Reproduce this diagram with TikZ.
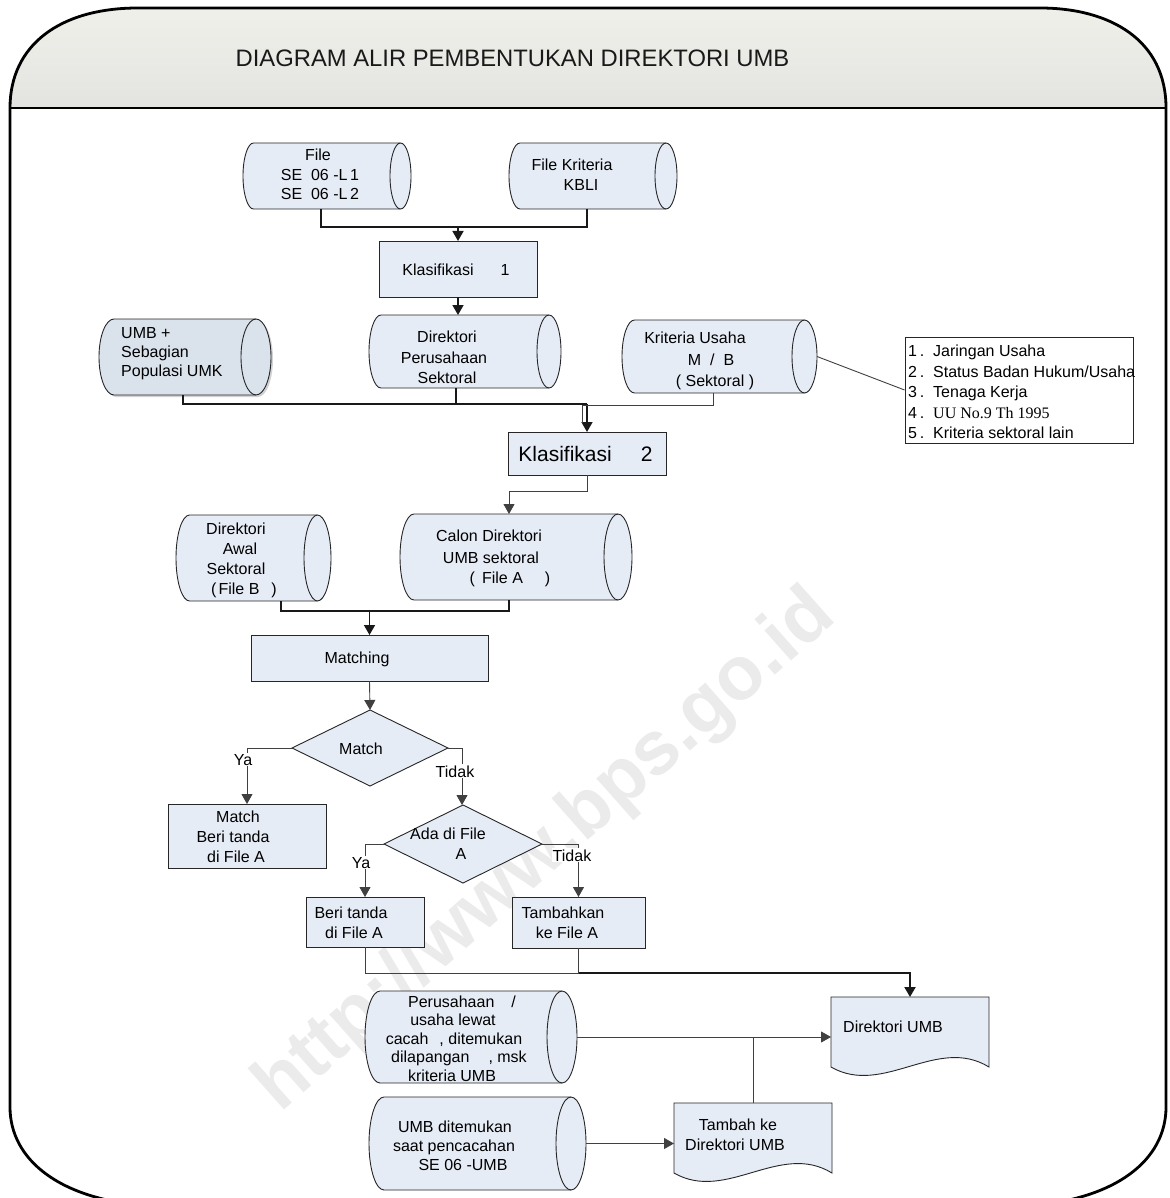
\documentclass[tikz,border=0pt]{standalone}
\usepackage{fontspec}
\setmainfont{Liberation Sans}
\newfontfamily\timesfont{Liberation Serif}
\usetikzlibrary{arrows.meta,shapes.geometric,shadows}
\definecolor{boxfill}{HTML}{E6ECF6}
\definecolor{umbfill}{HTML}{DAE2EC}
\definecolor{hdrtop}{HTML}{F0F0EA}
\definecolor{hdrbot}{HTML}{E3E3E1}
\definecolor{wmark}{HTML}{EBEBEB}

% cylinder: name, L, T, R, B, end radius, style
\newcommand\cylshape[7]{%
  \pgfmathsetmacro\cyM{(#3+#5)/2}%
  \pgfmathsetmacro\cyR{(#5-#3)/2}%
  \pgfmathsetmacro\cyK{0.5523*#6}%
  \pgfmathsetmacro\cyKr{0.5523*\cyR}%
  \pgfmathsetmacro\cyP{#2+#6}%
  \pgfmathsetmacro\cyQ{#4-#6}%
  \pgfmathsetmacro\cyX{(#2+#4)/2}%
  \filldraw[cylline,#7] (\cyP,#3) -- (\cyQ,#3)
     .. controls (\cyQ+\cyK,#3) and (#4,\cyM-\cyKr) .. (#4,\cyM)
     .. controls (#4,\cyM+\cyKr) and (\cyQ+\cyK,#5) .. (\cyQ,#5)
     -- (\cyP,#5)
     .. controls (\cyP-\cyK,#5) and (#2,\cyM+\cyKr) .. (#2,\cyM)
     .. controls (#2,\cyM-\cyKr) and (\cyP-\cyK,#3) .. (\cyP,#3) -- cycle;
  \draw[cylline] (\cyQ,#3) .. controls (\cyQ-\cyK,#3) and (\cyQ-#6,\cyM-\cyKr) .. (\cyQ-#6,\cyM)
     .. controls (\cyQ-#6,\cyM+\cyKr) and (\cyQ-\cyK,#5) .. (\cyQ,#5);
  \node[anchorbox, minimum width={#4-#2}, minimum height={#5-#3}] (#1) at (\cyX,\cyM) {};
}
% document: name, L, T, R, bottom, style
\newcommand\docshape[6]{%
  \pgfmathsetmacro\dsA{#2+0.67*(#4-#2)}%
  \pgfmathsetmacro\dsB{#2+0.33*(#4-#2)}%
  \filldraw[cylline,#6] (#2,#3) -- (#4,#3) -- (#4,#5)
     .. controls (\dsA,#5-32) and (\dsB,#5+30) .. (#2,#5) -- cycle;
  \node[anchorbox, minimum width={#4-#2}, minimum height={#5-#3}] (#1) at ({(#2+#4)/2},{(#3+#5)/2}) {};
}
% text line: name, x, y (visual centre), text
\newcommand\tline[4]{\node[txtbase] (#1) at (#2,#3+6) {#4};}
\newcommand\tlinew[4]{\node[txtbase, anchor=base west] (#1) at (#2,#3+6) {#4};}

\begin{document}
\begin{tikzpicture}[x=1pt,y=-1pt,
  anchorbox/.style={inner sep=0pt, outer sep=0pt},
  cylline/.style={draw=black!85, line width=0.9pt},
  procbox/.style={draw=black!85, line width=0.9pt, fill=boxfill, inner sep=0pt, outer sep=0pt},
  decbox/.style={diamond, draw=black!85, line width=0.9pt, fill=boxfill, inner sep=0pt, outer sep=0pt},
  conn/.style={draw=black!90, line width=1.6pt},
  connthin/.style={draw=black!75, line width=0.9pt},
  connthick/.style={draw=black!90, line width=2pt},
  tip/.style={-{Triangle[width=11pt,length=10pt]}},
  frame/.style={line width=2.8pt, draw=black},
  txtbase/.style={inner sep=0pt, anchor=base, font=\fontsize{16}{19}\selectfont},
  lbl/.style={inner sep=1pt, fill=white, anchor=base, font=\fontsize{16}{19}\selectfont},
]
\useasboundingbox (0,0) rectangle (1169,1198);
\fill[white] (0,0) rectangle (1169,1198);

% header band and frame
\shade[top color=hdrtop, bottom color=hdrbot] (10,108) .. controls (10,45) and (60,8) .. (138,8) -- (1040,8) .. controls (1110,8) and (1166,40) .. (1166,108) -- cycle;
\draw[frame] (10,108) .. controls (10,45) and (60,8) .. (138,8) -- (1040,8) .. controls (1110,8) and (1166,40) .. (1166,108) -- (1166,1107) .. controls (1166,1160) and (1116,1200) .. (1026,1206) -- (150,1206) .. controls (60,1200) and (10,1160) .. (10,1107) -- cycle;
\draw[frame] (10,108) -- (1166,108);
\node[inner sep=0pt, anchor=base, font=\fontsize{23.8}{28}\selectfont, text=black!90] (title) at (512.5,66.5) {DIAGRAM ALIR PEMBENTUKAN DIREKTORI UMB};

% watermark
\node[rotate=41.5, inner sep=0pt, font=\bfseries\fontsize{76}{80}\selectfont, text=wmark] (wm) at (546,852) {http://www.bps.go.id};

% shapes
\cylshape{file}{243}{143}{411}{209}{10.5}{fill=boxfill}
\cylshape{kbli}{509}{143}{677}{209}{11}{fill=boxfill}
\node[procbox, minimum width=158, minimum height=56] (k1) at (458,269) {};
\cylshape{umb}{99}{319}{271}{395}{15}{fill=umbfill, drop shadow={shadow xshift=2pt, shadow yshift=-2pt, opacity=0.35}}
\cylshape{dirp}{369}{315}{561}{388}{12}{fill=boxfill}
\cylshape{crit}{622}{320}{817}{393}{12.5}{fill=boxfill}
\node[draw=black!85, line width=0.9pt, fill=white, inner sep=0pt, minimum width=228, minimum height=106] (listbox) at (1019,390) {};
\node[procbox, minimum width=158, minimum height=43] (k2) at (587,453.5) {};
\cylshape{awal}{176}{515}{331}{601}{13.5}{fill=boxfill}
\cylshape{calon}{400}{514}{632}{600}{14}{fill=boxfill}
\node[procbox, minimum width=237, minimum height=46] (mtch) at (369.5,658) {};
\node[decbox, minimum width=156, minimum height=76] (d1) at (370,748) {};
\node[procbox, minimum width=158, minimum height=64] (mbox) at (247,836) {};
\node[decbox, minimum width=158, minimum height=78] (d2) at (463,844) {};
\node[procbox, minimum width=118, minimum height=50] (beri) at (365,922) {};
\node[procbox, minimum width=133, minimum height=51] (tamb) at (578.5,922.5) {};
\docshape{dirumb}{831}{997}{989}{1067}{fill=boxfill}
\cylshape{peru}{365}{991}{577}{1083}{15}{fill=boxfill}
\cylshape{umbd}{369}{1097}{586}{1190}{15}{fill=boxfill}
\docshape{tambk}{674}{1103}{832}{1173}{fill=boxfill}

% junction points
\coordinate (j1) at (458,227);
\coordinate (j2) at (587,404);
\coordinate (j3) at (582,405);
\coordinate (j4) at (509,491);
\coordinate (j5) at (369.5,611);
\coordinate (j6) at (578.5,973);

% connectors
\draw[conn] ([xshift=-6pt]file.south) |- (j1) -| ([xshift=-6pt]kbli.south);
\draw[conn, tip] (j1) -- (k1.north);
\draw[conn, tip] (k1.south) -- (k1.south |- dirp.north);
\draw[conn] ([xshift=-2pt]umb.south) |- (j2);
\draw[conn] ([xshift=-9pt]dirp.south) -- ([xshift=-9pt]dirp.south |- j2);
\draw[conn, tip] (j2) -- (k2.north);
\draw[connthin] ([xshift=-6.5pt]crit.south) |- (j3) -- ([yshift=9pt]j3 |- k2.north);
\draw[connthin] (crit.east) -- (listbox.west);
\draw[connthin, tip] (k2.south) |- (j4) -- (j4 |- calon.north);
\draw[conn] ([xshift=27.5pt]awal.south) |- (j5) -| ([xshift=-7pt]calon.south);
\draw[conn, tip] (j5) -- (mtch.north);
\draw[connthin, tip] (mtch.south) -- (d1.north);
\draw[connthin, tip] (d1.west) -| (mbox.north);
\draw[connthin, tip] (d1.east) -| ([xshift=-1pt]d2.north);
\draw[connthin, tip] (d2.west) -| (beri.north);
\draw[connthin, tip] (d2.east) -| (tamb.north);
\draw[connthin] (beri.south) |- (j6);
\draw[connthin] (tamb.south) -- (j6);
\draw[connthick, tip] (j6) -| (dirumb.north);
\draw[connthin, tip] (peru.east) -- (peru.east -| dirumb.west);
\draw[connthin, tip] (umbd.east) -- (umbd.east -| tambk.west);
\draw[connthin] (tambk.north) -- (tambk.north |- peru.east);

% branch labels
\node[lbl] (ya1) at (243,765) {Ya};
\node[lbl] (tidak1) at (455,777) {Tidak};
\node[lbl] (ya2) at (361,868) {Ya};
\node[lbl] (tidak2) at (572,861) {Tidak};

% texts
\tline{tf1}{318}{155}{File}
\tline{tf2}{320}{175}{SE\ \ 06 -L\,1}
\tline{tf3}{320}{194}{SE\ \ 06 -L\,2}
\tline{tk1}{572}{165}{File Kriteria}
\tline{tk2}{581}{185}{KBLI}
\tline{tkl1}{456}{269}{Klasifikasi\hspace{27pt}1}
\tline{tdp1}{447}{336}{Direktori}
\tline{tdp2}{444}{357}{Perusahaan}
\tline{tdp3}{447}{377}{Sektoral}
\tlinew{tu1}{121}{332}{UMB +}
\tlinew{tu2}{121}{351}{Sebagian}
\tlinew{tu3}{121}{370}{Populasi UMK}
\tline{tc1}{695}{337}{Kriteria Usaha}
\tline{tc2}{711}{359}{M\hspace{9pt}/\hspace{9pt}B}
\tline{tc3}{715}{380}{( Sektoral )}
\tlinew{tl1}{908}{350}{\makebox[25pt][l]{1\,.}Jaringan Usaha}
\tlinew{tl2}{908}{371}{\makebox[25pt][l]{2\,.}Status Badan Hukum/Usaha}
\tlinew{tl3}{908}{391}{\makebox[25pt][l]{3\,.}Tenaga Kerja}
\tlinew{tl4}{908}{412}{\makebox[25pt][l]{4\,.}{\timesfont UU No.9 Th 1995}}
\tlinew{tl5}{908}{432}{\makebox[25pt][l]{5\,.}Kriteria sektoral lain}
\node[txtbase, font=\fontsize{21}{24}\selectfont] (tkl2) at (585.5,461.5) {Klasifikasi\hspace{29pt}2};
\tline{tca1}{489}{535}{Calon Direktori}
\tline{tca2}{491}{557}{UMB sektoral}
\tline{tca3}{510}{577}{(\hspace{7pt}File A\hspace{22pt})}
\tline{taw1}{236}{528}{Direktori}
\tline{taw2}{240}{548}{Awal}
\tline{taw3}{236}{568}{Sektoral}
\tline{taw4}{244}{588}{(\hspace{2pt}File B\hspace{12pt})}
\tline{tm}{357}{657}{Matching}
\tline{td1}{361}{748}{Match}
\tline{tmb1}{238}{816}{Match}
\tline{tmb2}{233}{836}{Beri tanda}
\tline{tmb3}{236}{856}{di File A}
\tline{td21}{448}{833}{Ada di File}
\tline{td22}{461}{853}{A}
\tline{tb1}{351}{912}{Beri tanda}
\tline{tb2}{354}{932}{di File A}
\tline{tt1}{563}{912}{Tambahkan}
\tline{tt2}{567}{932}{ke File A}
\tlinew{tdu}{843}{1026}{Direktori UMB}
\tline{tp1}{462}{1001}{Perusahaan\hspace{17pt}/}
\tline{tp2}{453}{1019}{usaha lewat}
\tline{tp3}{454}{1038}{cacah\hspace{11pt}, ditemukan}
\tline{tp4}{459}{1056}{dilapangan\hspace{19pt}, msk}
\tline{tp5}{452}{1075}{kriteria UMB}
\tline{tud1}{455}{1126}{UMB ditemukan}
\tline{tud2}{454}{1145}{saat pencacahan}
\tline{tud3}{463}{1164}{SE 06 -UMB}
\tline{ttk1}{738}{1124}{Tambah ke}
\tline{ttk2}{735}{1144}{Direktori UMB}
\end{tikzpicture}
\end{document}
